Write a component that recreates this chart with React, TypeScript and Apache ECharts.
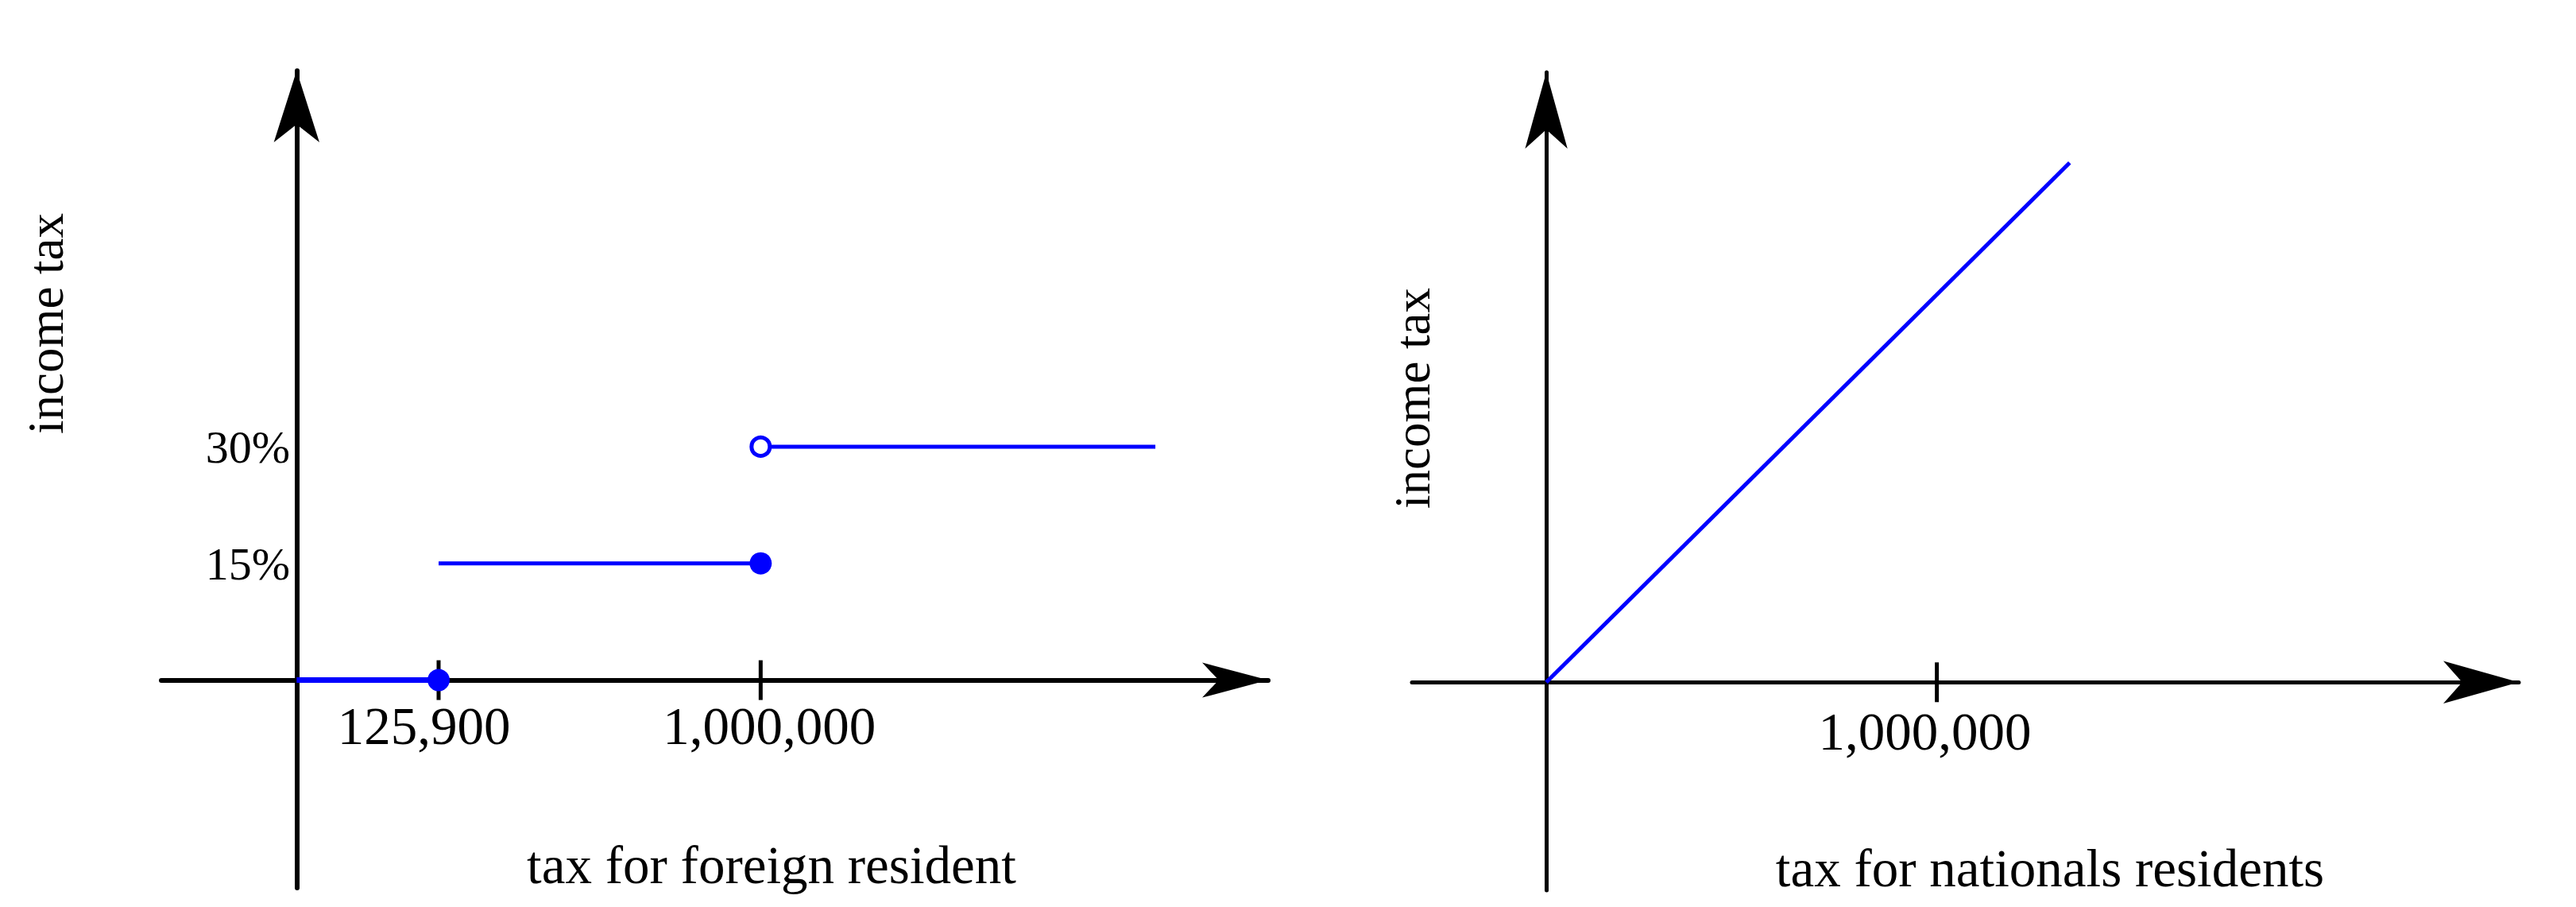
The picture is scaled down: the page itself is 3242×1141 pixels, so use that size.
import React, { useEffect, useRef } from 'react';
import * as echarts from 'echarts';

// ---- data ----
const foreignTickValues = [125900, 1000000];
const foreignRateTicks = [15, 30];
const foreignBottom = [[0, 0], [125900, 0]];
const foreignMiddle = [[125900, 15], [1000000, 15]];
const foreignTop = [[1000000, 30], [1350000, 30]];
const foreignClosedDots = [[125900, 0], [1000000, 15]];
const foreignOpenDots = [[1000000, 30]];

const nationalTickValues = [1000000];
const nationalLine = [[0, 0], [1340000, 402000]];

const yTitle = 'income tax';
const foreignTitle = 'tax for foreign resident';
const nationalTitle = 'tax for nationals residents';

const BLUE = '#0000ff';
const FONT = '"Liberation Serif", "Times New Roman", serif';

const fmtMoney = (v: number) => Math.round(v).toLocaleString('en-US');

// schematic compression of the foreign-resident income axis
const foreignBreaks = [{ start: 250000, end: 840000, gap: 1500 }];
const noBreakArea = { show: false, itemStyle: { opacity: 0, borderWidth: 0 } };

const hidden = {
  axisLine: { show: false },
  axisTick: { show: false },
  splitLine: { show: false },
  axisLabel: { show: false },
};

function buildOption(): any {
  const axisLineStyle = (w: number) => ({ color: '#000', width: w });
  const labelFont = { fontFamily: FONT, color: '#000' };
  return {
    animation: false,
    backgroundColor: '#fff',
    grid: [
      // 0: foreign main plot (axes cross at zero)
      { left: 203, top: 89, width: 1393, height: 1028, outerBoundsMode: 'none' },
      // 1: national main plot
      { left: 1777, top: 91, width: 1393, height: 1029, outerBoundsMode: 'none' },
      // 2: foreign label quadrant (positive part only, same scale)
      { left: 373, top: 89, width: 1223, height: 767, outerBoundsMode: 'none' },
      // 3: national label quadrant
      { left: 1946, top: 91, width: 1224, height: 767, outerBoundsMode: 'none' },
    ],
    xAxis: [
      {
        type: 'value',
        gridIndex: 0,
        min: -120000,
        max: 1450000,
        breaks: foreignBreaks,
        breakArea: noBreakArea,
        axisLine: {
          onZero: true,
          breakLine: false,
          lineStyle: axisLineStyle(6),
          symbol: ['none', 'arrow'],
          symbolSize: [33, 83],
        },
        axisTick: { show: false },
        splitLine: { show: false },
        axisLabel: { show: false },
      },
      {
        type: 'value',
        gridIndex: 1,
        min: -344000,
        max: 2490000,
        axisLine: {
          onZero: true,
          lineStyle: axisLineStyle(5),
          symbol: ['none', 'arrow'],
          symbolSize: [40, 95],
        },
        axisTick: { show: false },
        splitLine: { show: false },
        axisLabel: { show: false },
      },
      {
        type: 'value',
        gridIndex: 2,
        min: 0,
        max: 1450000,
        breaks: foreignBreaks,
        breakArea: noBreakArea,
        axisLine: { show: false, breakLine: false },
        axisTick: { show: false },
        splitLine: { show: false },
        axisLabel: {
          customValues: foreignTickValues,
          formatter: (v: number) => (v < 500000 ? `{l|${fmtMoney(v)}}` : `{r|${fmtMoney(v)}}`),
          ...labelFont,
          fontSize: 67,
          margin: 23,
          rich: {
            l: { fontFamily: FONT, fontSize: 67, color: '#000', padding: [0, 36, 0, 0] },
            r: { fontFamily: FONT, fontSize: 67, color: '#000', padding: [0, 0, 0, 22] },
          },
        },
      },
      {
        type: 'value',
        gridIndex: 3,
        min: 0,
        max: 2490000,
        axisLine: { show: false },
        axisTick: { show: false },
        splitLine: { show: false },
        axisLabel: {
          customValues: nationalTickValues,
          formatter: (v: number) => `{l|${fmtMoney(v)}}`,
          ...labelFont,
          fontSize: 67,
          margin: 28,
          rich: {
            l: { fontFamily: FONT, fontSize: 67, color: '#000', padding: [0, 30, 0, 0] },
          },
        },
      },
    ],
    yAxis: [
      {
        type: 'value',
        gridIndex: 0,
        min: -26.7,
        max: 78.3,
        axisLine: {
          onZero: true,
          lineStyle: axisLineStyle(6),
          symbol: ['none', 'arrow'],
          symbolSize: [43, 90],
        },
        axisTick: { show: false },
        splitLine: { show: false },
        axisLabel: { show: false },
      },
      {
        type: 'value',
        gridIndex: 1,
        min: -161000,
        max: 472000,
        axisLine: {
          onZero: true,
          lineStyle: axisLineStyle(5),
          symbol: ['none', 'arrow'],
          symbolSize: [40, 96],
        },
        axisTick: { show: false },
        splitLine: { show: false },
        axisLabel: { show: false },
      },
      {
        type: 'value',
        gridIndex: 2,
        min: 0,
        max: 78.3,
        axisLine: { show: false },
        axisTick: { show: false },
        splitLine: { show: false },
        axisLabel: {
          customValues: foreignRateTicks,
          formatter: (v: number) => v + '%',
          ...labelFont,
          fontSize: 58,
          margin: 8,
        },
      },
      { type: 'value', gridIndex: 3, min: 0, max: 472000, ...hidden },
    ],
    series: [
      {
        type: 'scatter',
        xAxisIndex: 0,
        yAxisIndex: 0,
        data: foreignTickValues.map((v) => [v, 0]),
        symbol: 'rect',
        symbolSize: [5, 50],
        itemStyle: { color: '#000', opacity: 1 },
        silent: true,
        z: 1,
      },
      {
        type: 'line',
        xAxisIndex: 0,
        yAxisIndex: 0,
        data: foreignBottom,
        symbol: 'none',
        lineStyle: { color: BLUE, width: 7 },
        silent: true,
        z: 3,
      },
      {
        type: 'line',
        xAxisIndex: 0,
        yAxisIndex: 0,
        data: foreignMiddle,
        symbol: 'none',
        lineStyle: { color: BLUE, width: 5 },
        silent: true,
        z: 3,
      },
      {
        type: 'line',
        xAxisIndex: 0,
        yAxisIndex: 0,
        data: foreignTop,
        symbol: 'none',
        lineStyle: { color: BLUE, width: 5 },
        silent: true,
        z: 3,
      },
      {
        type: 'scatter',
        xAxisIndex: 0,
        yAxisIndex: 0,
        data: foreignClosedDots,
        symbol: 'circle',
        symbolSize: 28,
        itemStyle: { color: BLUE, opacity: 1 },
        silent: true,
        z: 5,
      },
      {
        type: 'scatter',
        xAxisIndex: 0,
        yAxisIndex: 0,
        data: foreignOpenDots,
        symbol: 'circle',
        symbolSize: 23,
        itemStyle: { color: '#fff', borderColor: BLUE, borderWidth: 5, opacity: 1 },
        silent: true,
        z: 5,
      },
      {
        type: 'scatter',
        xAxisIndex: 1,
        yAxisIndex: 1,
        data: nationalTickValues.map((v) => [v, 0]),
        symbol: 'rect',
        symbolSize: [5, 50],
        itemStyle: { color: '#000', opacity: 1 },
        silent: true,
        z: 1,
      },
      {
        type: 'line',
        xAxisIndex: 1,
        yAxisIndex: 1,
        data: nationalLine,
        symbol: 'none',
        lineStyle: { color: BLUE, width: 5 },
        silent: true,
        z: 3,
      },
    ],
    graphic: [
      {
        type: 'text',
        x: 58,
        y: 407,
        rotation: Math.PI / 2,
        style: { text: yTitle, font: `63px ${FONT}`, fill: '#000', align: 'center', verticalAlign: 'middle' },
      },
      {
        type: 'text',
        x: 1778,
        y: 501,
        rotation: Math.PI / 2,
        style: { text: yTitle, font: `63px ${FONT}`, fill: '#000', align: 'center', verticalAlign: 'middle' },
      },
      {
        type: 'text',
        x: 971,
        y: 1088,
        style: { text: foreignTitle, font: `67px ${FONT}`, fill: '#000', align: 'center', verticalAlign: 'middle' },
      },
      {
        type: 'text',
        x: 2580,
        y: 1092,
        style: { text: nationalTitle, font: `67px ${FONT}`, fill: '#000', align: 'center', verticalAlign: 'middle' },
      },
    ],
  };
}

export default function App() {
  const ref = useRef<HTMLDivElement>(null);
  useEffect(() => {
    if (!ref.current) return;
    const chart = echarts.init(ref.current, null, { renderer: 'svg' });
    chart.setOption(buildOption());
    return () => chart.dispose();
  }, []);
  return (
    <div
      ref={ref}
      style={{ position: 'fixed', left: 0, top: 0, width: 3242, height: 1141, background: '#fff' }}
    />
  );
}
